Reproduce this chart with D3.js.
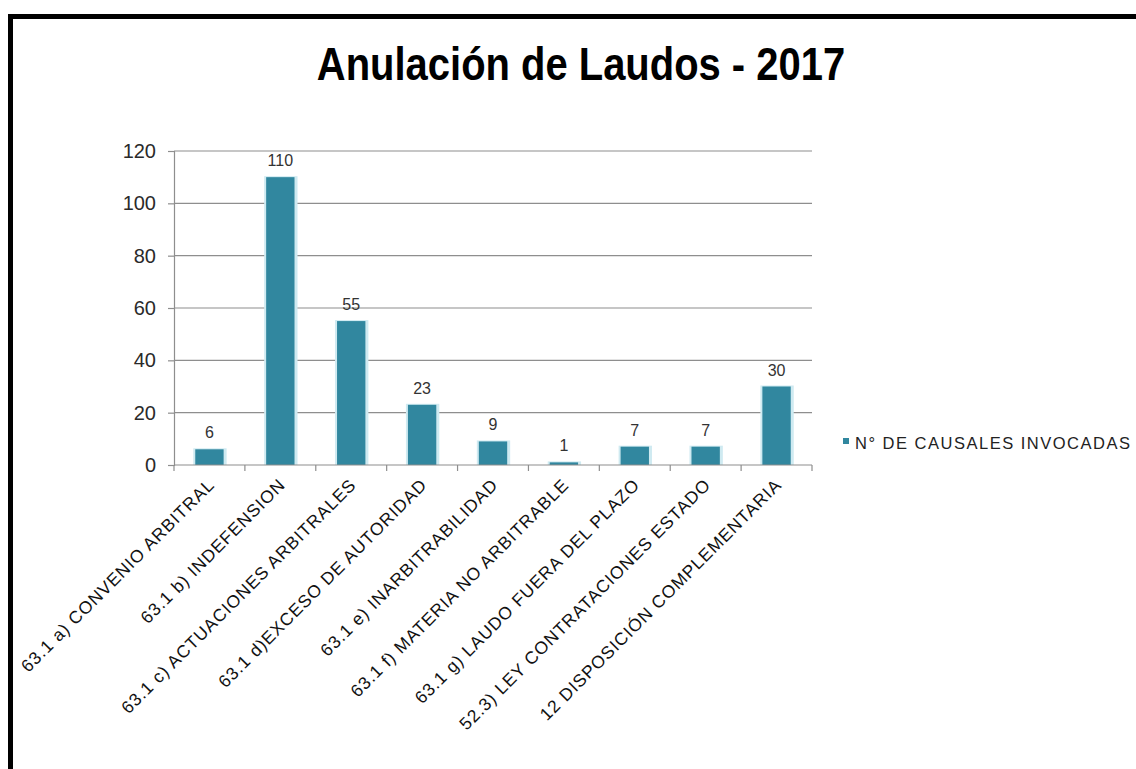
<!DOCTYPE html>
<html>
<head>
<meta charset="utf-8">
<script src="https://cdn.jsdelivr.net/npm/d3@7"></script>
<style>
  html, body { margin: 0; padding: 0; background: #fff; }
  svg { display: block; }
  text { font-family: "Liberation Sans", Arial, sans-serif; }
</style>
</head>
<body>
<svg id="chart" width="1136" height="769"></svg>
<script>
// Causales de anulación invocadas en 2017
const categories = [
  "63.1 a) CONVENIO ARBITRAL",
  "63.1 b) INDEFENSION",
  "63.1 c) ACTUACIONES ARBITRALES",
  "63.1 d)EXCESO DE AUTORIDAD",
  "63.1 e) INARBITRABILIDAD",
  "63.1 f) MATERIA NO ARBITRABLE",
  "63.1 g) LAUDO FUERA DEL PLAZO",
  "52.3) LEY CONTRATACIONES ESTADO",
  "12 DISPOSICIÓN COMPLEMENTARIA"
];
const values = [6, 110, 55, 23, 9, 1, 7, 7, 30];
const yTicks = [0, 20, 40, 60, 80, 100, 120];
const seriesName = "N° DE CAUSALES INVOCADAS";
const title = "Anulación de Laudos - 2017";

const svg = d3.select("#chart");
const barColor = "#31879f";
const gridColor = "#8e8e8e";

// Outer frame (open to the right and bottom)
svg.append("path")
  .attr("d", "M10.5,769 L10.5,16.5 L1136,16.5")
  .attr("fill", "none")
  .attr("stroke", "#000")
  .attr("stroke-width", 5);

// Title
svg.append("text")
  .attr("transform", "translate(581,80) scale(0.85,1)")
  .attr("text-anchor", "middle")
  .attr("font-size", 47)
  .attr("font-weight", "bold")
  .attr("fill", "#000")
  .text(title);

const plot = { left: 174, right: 812, top: 151, bottom: 465 };

const x = d3.scaleBand()
  .domain(categories)
  .range([plot.left, plot.right])
  .paddingInner(0.6)
  .paddingOuter(0.3);

const xb = d3.scaleBand()
  .domain(categories)
  .range([plot.left, plot.right]);

const y = d3.scaleLinear()
  .domain([0, 120])
  .range([plot.bottom, plot.top]);

// Horizontal gridlines + y axis
const yAxis = d3.axisLeft(y)
  .tickValues(yTicks)
  .tickSize(6)
  .tickPadding(12)
  .tickFormat(d3.format("d"));

const gy = svg.append("g")
  .attr("transform", `translate(${plot.left},0)`)
  .call(yAxis);
gy.select(".domain").attr("stroke", gridColor).attr("stroke-width", 1.2);
gy.selectAll(".tick line").attr("stroke", gridColor).attr("stroke-width", 1.2);
gy.selectAll(".tick text")
  .attr("font-size", 20)
  .attr("fill", "#2a2a2a")
  .attr("font-family", "Liberation Sans, Arial, sans-serif");

svg.append("g")
  .selectAll("line")
  .data(yTicks.filter(d => d > 0))
  .join("line")
  .attr("x1", plot.left)
  .attr("x2", plot.right)
  .attr("y1", d => y(d))
  .attr("y2", d => y(d))
  .attr("stroke", gridColor)
  .attr("stroke-width", 1.2);

// Bars with a soft light halo
const bars = svg.append("g");
bars.selectAll("rect.halo")
  .data(values)
  .join("rect")
  .attr("class", "halo")
  .attr("x", (d, i) => x(categories[i]) - 2)
  .attr("y", d => y(d) - 1)
  .attr("width", x.bandwidth() + 5)
  .attr("height", d => plot.bottom - y(d) + 1)
  .attr("fill", "#cfeaf1");

bars.selectAll("rect.bar")
  .data(values)
  .join("rect")
  .attr("class", "bar")
  .attr("x", (d, i) => x(categories[i]))
  .attr("y", d => y(d))
  .attr("width", x.bandwidth())
  .attr("height", d => plot.bottom - y(d))
  .attr("fill", barColor);

// Value labels
svg.append("g")
  .selectAll("text")
  .data(values)
  .join("text")
  .attr("x", (d, i) => x(categories[i]) + x.bandwidth() / 2)
  .attr("y", d => y(d) - 11)
  .attr("text-anchor", "middle")
  .attr("font-size", 16)
  .attr("fill", "#333")
  .text(d => d);

// X axis with band-boundary ticks
const gx = svg.append("g")
  .attr("transform", `translate(0,${plot.bottom})`);
gx.append("line")
  .attr("x1", plot.left).attr("x2", plot.right)
  .attr("stroke", gridColor).attr("stroke-width", 1.2);
gx.selectAll("line.tick")
  .data(categories.concat([null]))
  .join("line")
  .attr("class", "tick")
  .attr("x1", (d, i) => i < categories.length ? xb(d) : plot.right)
  .attr("x2", (d, i) => i < categories.length ? xb(d) : plot.right)
  .attr("y1", 0).attr("y2", 6)
  .attr("stroke", gridColor).attr("stroke-width", 1.2);

gx.selectAll("text")
  .data(categories)
  .join("text")
  .attr("transform", d => `translate(${xb(d) + xb.bandwidth() / 2 + 6},${21}) rotate(-45)`)
  .attr("text-anchor", "end")
  .attr("font-size", 17.5)
  .attr("letter-spacing", 0.9)
  .attr("fill", "#111")
  .text(d => d);

// Legend
const lg = svg.append("g").attr("transform", "translate(843,438)");
lg.append("rect")
  .attr("width", 6).attr("height", 6)
  .attr("fill", barColor);
lg.append("text")
  .attr("x", 12).attr("y", 11)
  .attr("font-size", 16.5)
  .attr("letter-spacing", 1.5)
  .attr("fill", "#222")
  .text(seriesName);
</script>
</body>
</html>
